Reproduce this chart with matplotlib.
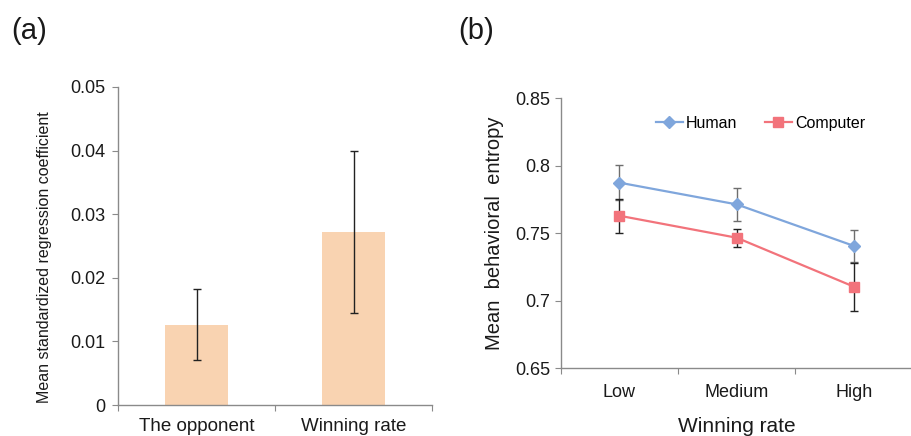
import matplotlib.pyplot as plt
from matplotlib.ticker import FuncFormatter

plt.rcParams['font.family'] = ['Liberation Sans', 'DejaVu Sans']

# --- data: panel (a) ---
bar_labels = ['The opponent', 'Winning rate']
bar_means = [0.0125, 0.0272]
bar_lo = [0.0070, 0.0145]
bar_hi = [0.0182, 0.0400]

# --- data: panel (b) ---
rate_labels = ['Low', 'Medium', 'High']
human = [0.7875, 0.7714, 0.7406]
human_err = [0.0128, 0.0124, 0.0120]
computer = [0.7630, 0.7467, 0.7104]
computer_err = [0.0127, 0.0068, 0.0178]

bar_col = '#f9d3b1'
human_col = '#7fa6dc'
comp_col = '#f2737b'
spine_col = '#8a8a8a'
txt_col = '#1a1a1a'

fig = plt.figure(figsize=(9.12, 4.36), dpi=100)
ax1 = fig.add_axes([0.1294, 0.0711, 0.3443, 0.7294])
ax2 = fig.add_axes([0.6148, 0.1553, 0.3860, 0.6193])

fmt = FuncFormatter(lambda v, p: f'{v:g}')

# panel (a)
xa = [0.5, 1.5]
yerr_a = [[m - lo for m, lo in zip(bar_means, bar_lo)],
          [hi - m for m, hi in zip(bar_means, bar_hi)]]
ax1.bar(xa, bar_means, width=0.4, color=bar_col, zorder=1)
ax1.errorbar(xa, bar_means, yerr=yerr_a, fmt='none', ecolor='#222222',
             elinewidth=1, capsize=3, capthick=1, zorder=2)
ax1.set_xlim(0, 2)
ax1.set_ylim(0, 0.05)
ax1.set_yticks([0, 0.01, 0.02, 0.03, 0.04, 0.05])
ax1.yaxis.set_major_formatter(fmt)
ax1.set_xticks([0, 1, 2])
ax1.set_xticklabels([])
ax1.set_xticks(xa, minor=True)
ax1.set_xticklabels(bar_labels, minor=True, fontsize=13.5, color=txt_col)
ax1.tick_params(axis='x', which='minor', length=0, pad=9)
ax1.tick_params(axis='both', which='major', length=4, color=spine_col,
                labelsize=13, labelcolor=txt_col)
ax1.tick_params(axis='y', pad=5)
ax1.set_ylabel('Mean standardized regression coefficient', fontsize=11.5,
               color=txt_col)
ax1.yaxis.set_label_coords(-0.21, 0.465)

# panel (b)
xb = [0.5, 1.5, 2.5]
ax2.errorbar(xb, human, yerr=human_err, fmt='none', ecolor='#6e6e6e',
             elinewidth=1, capsize=3, capthick=1, zorder=2)
ax2.errorbar(xb, computer, yerr=computer_err, fmt='none', ecolor='#222222',
             elinewidth=1, capsize=3, capthick=1, zorder=2)
ax2.plot(xb, human, color=human_col, lw=1.6, marker='D', markersize=6.5,
         label='Human', zorder=3)
ax2.plot(xb, computer, color=comp_col, lw=1.6, marker='s', markersize=7.5,
         label='Computer', zorder=3)
ax2.set_xlim(0, 3)
ax2.set_ylim(0.65, 0.85)
ax2.set_yticks([0.65, 0.7, 0.75, 0.8, 0.85])
ax2.yaxis.set_major_formatter(fmt)
ax2.set_xticks([0, 1, 2, 3])
ax2.set_xticklabels([])
ax2.set_xticks(xb, minor=True)
ax2.set_xticklabels(rate_labels, minor=True, fontsize=13, color=txt_col)
ax2.tick_params(axis='x', which='minor', length=0, pad=11)
ax2.tick_params(axis='both', which='major', length=4, color=spine_col,
                labelsize=13, labelcolor=txt_col)
ax2.set_ylabel('Mean  behavioral  entropy', fontsize=14.5, color=txt_col,
               labelpad=8)
ax2.set_xlabel('Winning rate', fontsize=15, color=txt_col, labelpad=12)
ax2.legend(loc='center', bbox_to_anchor=(0.567, 0.907), ncol=2, frameon=False,
           fontsize=11.5, handlelength=1.7, handletextpad=0.2,
           columnspacing=1.7)

for ax in (ax1, ax2):
    for s in ('top', 'right'):
        ax.spines[s].set_visible(False)
    for s in ('left', 'bottom'):
        ax.spines[s].set_color(spine_col)
        ax.spines[s].set_linewidth(1)

fig.text(0.012, 0.96, '(a)', fontsize=21, va='top', ha='left', color=txt_col)
fig.text(0.502, 0.96, '(b)', fontsize=21, va='top', ha='left', color=txt_col)

fig.savefig('out.png', dpi=100)
